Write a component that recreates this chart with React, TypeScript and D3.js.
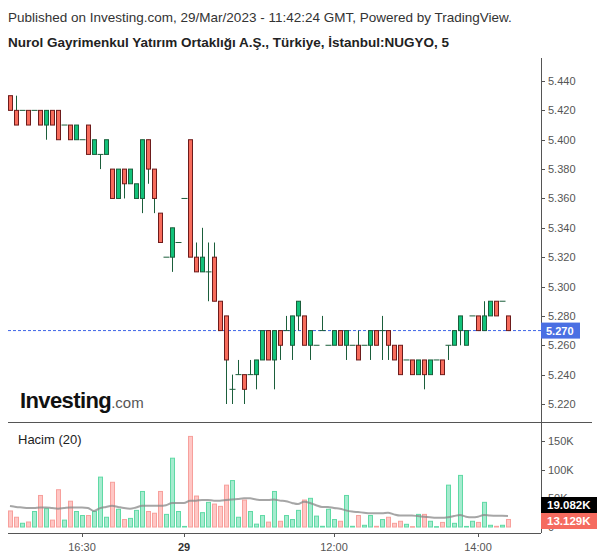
import React from "react";
import * as d3 from "d3";

// ---------- data ----------
const opens = [
  5.43, 5.42, 5.42, 5.42, 5.42, 5.42, 5.41, 5.42, 5.42, 5.41,
  5.41, 5.40, 5.40, 5.41, 5.39, 5.39, 5.39, 5.38, 5.36, 5.38,
  5.37, 5.36, 5.36, 5.40, 5.38, 5.35, 5.32, 5.32, 5.33, 5.36,
  5.40, 5.32, 5.31, 5.31, 5.32, 5.29, 5.28, 5.23, 5.24, 5.24,
  5.24, 5.24, 5.25, 5.27, 5.25, 5.27, 5.27, 5.26, 5.28, 5.28,
  5.26, 5.26, 5.27, 5.26, 5.26, 5.27, 5.26, 5.26, 5.26, 5.26,
  5.26, 5.27, 5.27, 5.27, 5.26, 5.26, 5.25, 5.25, 5.24, 5.25,
  5.24, 5.25, 5.25, 5.26, 5.26, 5.27, 5.26, 5.28, 5.28, 5.27,
  5.28, 5.29, 5.29, 5.28,
];
const highs = [
  5.43, 5.43, 5.42, 5.42, 5.42, 5.42, 5.42, 5.42, 5.42, 5.41,
  5.41, 5.41, 5.40, 5.41, 5.40, 5.39, 5.40, 5.38, 5.38, 5.38,
  5.38, 5.37, 5.40, 5.40, 5.38, 5.35, 5.32, 5.34, 5.33, 5.36,
  5.40, 5.33, 5.34, 5.33, 5.33, 5.29, 5.28, 5.24, 5.25, 5.24,
  5.25, 5.25, 5.27, 5.27, 5.27, 5.27, 5.28, 5.28, 5.29, 5.28,
  5.27, 5.26, 5.28, 5.26, 5.27, 5.27, 5.27, 5.26, 5.27, 5.26,
  5.27, 5.27, 5.28, 5.27, 5.26, 5.26, 5.25, 5.25, 5.25, 5.25,
  5.25, 5.25, 5.25, 5.26, 5.27, 5.28, 5.27, 5.28, 5.28, 5.29,
  5.29, 5.29, 5.29, 5.28,
];
const lows = [
  5.42, 5.41, 5.42, 5.41, 5.42, 5.41, 5.40, 5.41, 5.40, 5.41,
  5.40, 5.40, 5.40, 5.39, 5.39, 5.38, 5.39, 5.36, 5.36, 5.36,
  5.37, 5.36, 5.35, 5.37, 5.35, 5.33, 5.32, 5.31, 5.33, 5.36,
  5.32, 5.31, 5.31, 5.29, 5.29, 5.27, 5.22, 5.22, 5.24, 5.22,
  5.24, 5.23, 5.25, 5.25, 5.23, 5.25, 5.27, 5.25, 5.27, 5.26,
  5.25, 5.26, 5.27, 5.26, 5.26, 5.26, 5.25, 5.26, 5.25, 5.26,
  5.25, 5.26, 5.25, 5.25, 5.25, 5.24, 5.25, 5.24, 5.24, 5.23,
  5.24, 5.25, 5.24, 5.25, 5.26, 5.26, 5.26, 5.28, 5.27, 5.27,
  5.28, 5.28, 5.29, 5.27,
];
const closes = [
  5.42, 5.41, 5.42, 5.41, 5.42, 5.41, 5.42, 5.41, 5.40, 5.41,
  5.40, 5.41, 5.40, 5.39, 5.40, 5.39, 5.40, 5.36, 5.38, 5.37,
  5.38, 5.37, 5.40, 5.38, 5.36, 5.33, 5.32, 5.34, 5.33, 5.36,
  5.32, 5.31, 5.32, 5.31, 5.29, 5.27, 5.25, 5.23, 5.24, 5.23,
  5.24, 5.25, 5.27, 5.25, 5.27, 5.26, 5.27, 5.28, 5.29, 5.26,
  5.27, 5.26, 5.27, 5.26, 5.27, 5.26, 5.27, 5.26, 5.25, 5.26,
  5.27, 5.26, 5.27, 5.26, 5.25, 5.24, 5.25, 5.24, 5.25, 5.24,
  5.25, 5.25, 5.24, 5.26, 5.27, 5.28, 5.27, 5.28, 5.27, 5.28,
  5.29, 5.28, 5.29, 5.27,
];
// volume in thousands
const volumes = [
  28, 17, 6.5, 8.7, 27, 55, 32, 12, 65, 12,
  45, 27, 20, 20, 27, 87, 17, 78, 31, 13,
  15, 29, 62, 27, 24, 62, 22, 120, 27, 1,
  158, 54, 25, 43, 40, 36, 73, 81, 17, 47,
  27, 5, 20, 8.5, 62, 10, 20, 13, 29, 47,
  50, 19, 1.2, 31, 13, 10, 55, 1.2, 20, 3,
  20, 1.2, 13, 17, 6.4, 10, 4.7, 0.6, 22, 22,
  10, 0.6, 8, 73, 6.4, 90, 1, 10, 8, 43,
  3, 1.2, 3, 13.129,
];
// 20-period volume moving average (thousands)
const volumeMA = [
  36.6, 35, 34, 33, 33, 34, 34, 33, 32, 33,
  34, 34, 34, 33, 28, 33, 35, 37, 35, 33,
  32, 34, 37, 37, 37, 37, 38, 42, 42, 42,
  46, 46, 47, 47, 46, 46, 47, 48, 49, 50,
  50, 48, 47, 47, 48, 46, 45, 42, 40, 44,
  42, 38, 35, 35, 33, 32, 29, 27, 26, 25,
  24, 24, 24, 25, 22, 20, 20, 20, 19, 18,
  17, 16, 16, 17, 19, 21, 18, 17, 18, 21,
  20, 19.5, 19.5, 19.082,
];
const priceTicks = [5.22, 5.24, 5.26, 5.28, 5.3, 5.32, 5.34, 5.36, 5.38, 5.4, 5.42, 5.44];
const volumeTicks = [0, 50, 100, 150];
const timeTickIndex = [12, 29, 54, 78];
const timeTickLabels = ["16:30", "29", "12:00", "14:00"];
const timeTickBold = [false, true, false, false];
const lastPrice = 5.27;
const lastVolumeLabel = "13.129K";
const lastMALabel = "19.082K";

const FONT = "Arial, 'Liberation Sans', sans-serif";

export default function App() {
  const W = 600;
  const H = 558;
  const axisX = 541;
  const n = opens.length;

  const x = d3.scaleLinear().domain([0, n - 1]).range([10, 508]);
  const y = d3.scaleLinear().domain([5.22, 5.44]).range([404, 81]);
  const yv = d3.scaleLinear().domain([0, 150]).range([527, 441]);

  const maLine = d3
    .line<number>()
    .x((_, i) => x(i))
    .y((d) => yv(d))
    .curve(d3.curveMonotoneX);

  const bodyW = 4;
  const upFill = "#12c27a";
  const upStroke = "#1b5e3b";
  const downFill = "#f86c5c";
  const downStroke = "#6d1b1b";
  const wickColor = "#1b5e3b";

  return (
    <svg width={W} height={H} style={{ display: "block", position: "absolute", left: 0, top: 0 }} fontFamily={FONT}>
      <rect x={0} y={0} width={W} height={H} fill="#ffffff" />
      {/* header */}
      <text x={8} y={21.5} fontSize={13.5} fill="#333">
        Published on Investing.com, 29/Mar/2023 - 11:42:24 GMT, Powered by TradingView.
      </text>
      <text x={8} y={46.5} fontSize={13.5} fontWeight="bold" fill="#222">
        Nurol Gayrimenkul Yatırım Ortaklığı A.Ş., Türkiye, İstanbul:NUGYO, 5
      </text>

      {/* watermark logo */}
      <text x={20} y={408} fontSize={22} fontWeight="bold" fill="#111" letterSpacing={-0.6}>
        Investing
        <tspan fontSize={15} fontWeight="normal" fill="#555" letterSpacing={0}>.com</tspan>
      </text>

      {/* last price dashed line */}
      <line x1={8} x2={axisX} y1={y(lastPrice)} y2={y(lastPrice)} stroke="#3d64e6" strokeWidth={1} strokeDasharray="3,2" />

      {/* candles */}
      {opens.map((o, i) => {
        const c = closes[i];
        const h = highs[i];
        const l = lows[i];
        const cx = Math.round(x(i)) + 0.5;
        const up = c > o;
        const down = c < o;
        const top = y(Math.max(o, c));
        const bot = y(Math.min(o, c));
        return (
          <g key={i}>
            {h > Math.max(o, c) || l < Math.min(o, c) ? (
              <line x1={cx} x2={cx} y1={y(h)} y2={y(l)} stroke={wickColor} strokeWidth={1} />
            ) : null}
            {up || down ? (
              <rect
                x={cx - bodyW / 2}
                y={top}
                width={bodyW}
                height={Math.max(1, bot - top)}
                fill={up ? upFill : downFill}
                stroke={up ? upStroke : downStroke}
                strokeWidth={1}
              />
            ) : (
              <line x1={cx - 3} x2={cx + 3} y1={y(o)} y2={y(o)} stroke={wickColor} strokeWidth={1} />
            )}
          </g>
        );
      })}

      {/* pane separator */}
      <line x1={8} x2={592} y1={422.5} y2={422.5} stroke="#555" strokeWidth={1} />

      {/* volume pane */}
      <text x={18} y={444} fontSize={13} fill="#222">Hacim (20)</text>
      {volumes.map((v, i) => {
        const cx = Math.round(x(i)) + 0.5;
        const down = closes[i] < opens[i];
        const top = yv(v);
        return (
          <rect
            key={i}
            x={cx - 2}
            y={top}
            width={4}
            height={Math.max(0.5, yv(0) - top)}
            fill={down ? "#ffc7c5" : "#a6ebcf"}
            stroke={down ? "#f7a09c" : "#5fdaa5"}
            strokeWidth={1}
          />
        );
      })}
      <path d={maLine(volumeMA) || ""} fill="none" stroke="#888" strokeOpacity={0.75} strokeWidth={2} />

      {/* axes */}
      <line x1={axisX + 0.5} x2={axisX + 0.5} y1={58} y2={533} stroke="#555" strokeWidth={1} />
      <line x1={8} x2={axisX} y1={533.5} y2={533.5} stroke="#555" strokeWidth={1} />

      {priceTicks.map((p) => (
        <g key={p}>
          <line x1={axisX} x2={axisX + 4} y1={Math.round(y(p)) + 0.5} y2={Math.round(y(p)) + 0.5} stroke="#555" />
          <text x={548} y={y(p) + 4} fontSize={11} fill="#555">
            {p.toFixed(3)}
          </text>
        </g>
      ))}
      {volumeTicks.map((v) => (
        <g key={v}>
          <line x1={axisX} x2={axisX + 4} y1={Math.round(yv(v)) + 0.5} y2={Math.round(yv(v)) + 0.5} stroke="#555" />
          <text x={548} y={yv(v) + 4} fontSize={11} fill="#555">
            {v === 0 ? "0" : `${v}K`}
          </text>
        </g>
      ))}
      {timeTickIndex.map((ti, k) => (
        <g key={ti}>
          <line x1={Math.round(x(ti)) + 0.5} x2={Math.round(x(ti)) + 0.5} y1={533} y2={537} stroke="#555" />
          <text
            x={x(ti)}
            y={551}
            fontSize={11}
            textAnchor="middle"
            fill={timeTickBold[k] ? "#333" : "#555"}
            fontWeight={timeTickBold[k] ? "bold" : "normal"}
          >
            {timeTickLabels[k]}
          </text>
        </g>
      ))}

      {/* last price label */}
      <rect x={axisX} y={y(lastPrice) - 8} width={39} height={16} fill="#4a6fe3" />
      <text x={546} y={y(lastPrice) + 4} fontSize={11} fontWeight="bold" fill="#fff">
        {lastPrice.toFixed(3)}
      </text>

      {/* volume labels */}
      <rect x={axisX} y={497} width={56} height={16} fill="#000" />
      <text x={547} y={509} fontSize={11.5} fontWeight="bold" fill="#fff">{lastMALabel}</text>
      <rect x={axisX} y={513} width={56} height={16} fill="#f56b5f" />
      <text x={547} y={525} fontSize={11.5} fontWeight="bold" fill="#fff">{lastVolumeLabel}</text>
    </svg>
  );
}
